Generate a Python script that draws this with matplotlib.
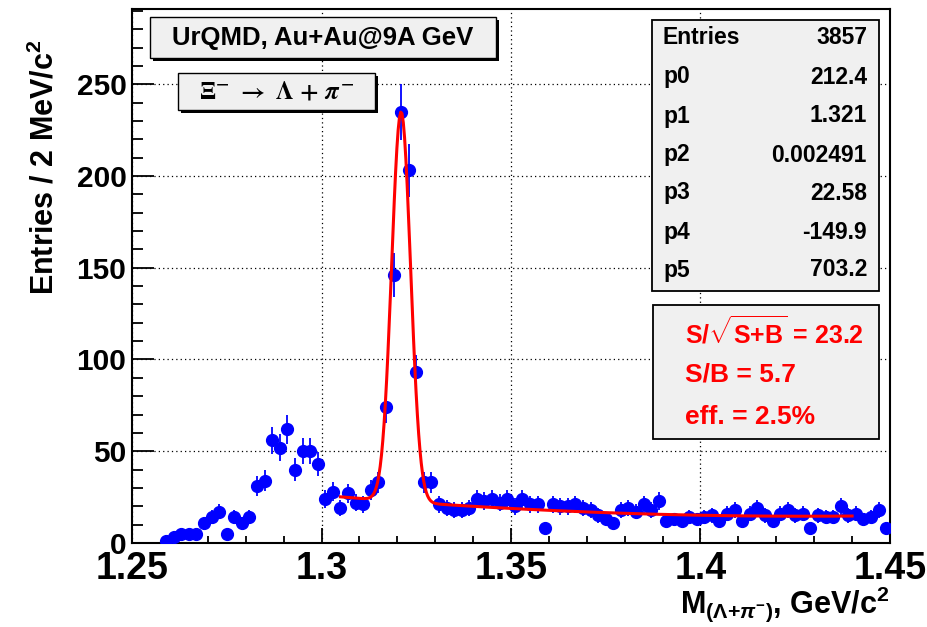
import numpy as np
import matplotlib
matplotlib.use('Agg')
import matplotlib.pyplot as plt
from matplotlib.patches import Rectangle
from matplotlib.ticker import MultipleLocator

plt.rcParams['font.family'] = ['Liberation Sans', 'DejaVu Sans']
plt.rcParams['font.weight'] = 'bold'
plt.rcParams['mathtext.fontset'] = 'custom'
plt.rcParams['mathtext.rm'] = 'Liberation Sans:bold'
plt.rcParams['mathtext.bf'] = 'Liberation Sans:bold'
plt.rcParams['mathtext.it'] = 'Liberation Sans:italic:bold'

# histogram: 2 MeV bins from 1.25 GeV, first filled bin is #4
bin_low = 1.25
bin_width = 0.002
first_bin = 4
counts = [1, 3, 5, 5, 5, 11, 14, 17, 5, 14, 11, 14, 31, 34, 56, 52, 62, 40, 50, 50,
          43, 24, 28, 19, 27, 22, 21, 29, 33, 74, 146, 235, 203, 93, 33, 33, 21, 19, 18, 18,
          19, 24, 23, 24, 22, 24, 20, 24, 21, 21, 8, 21, 20, 20, 21, 19, 18, 15, 13, 11,
          18, 19, 17, 21, 18, 23, 12, 13, 12, 14, 13, 14, 15, 12, 16, 18, 12, 16, 19, 15,
          12, 16, 18, 15, 16, 8, 15, 14, 14, 20, 15, 16, 13, 14, 18, 8]

# fit: gaus(p0,p1,p2) + pol2 in (m - p1)
par_names = ['p0', 'p1', 'p2', 'p3', 'p4', 'p5']
par_values = [212.4, 1.321, 0.002491, 22.58, -149.9, 703.2]
par_labels = ['212.4', '1.321', '0.002491', '22.58', '-149.9', '703.2']
fit_range = (1.305, 1.44)
entries = '3857'

xticks = [1.25, 1.3, 1.35, 1.4, 1.45]
xtick_labels = ['1.25', '1.3', '1.35', '1.4', '1.45']
yticks = [0, 50, 100, 150, 200, 250]
ytick_labels = ['0', '50', '100', '150', '200', '250']

W, H = 927, 627


def fx(px):
    return px / W


def fy(py):
    return 1 - py / H


fig = plt.figure(figsize=(W / 100, H / 100), dpi=100)
ax = fig.add_axes([fx(132), fy(543), (890 - 132) / W, (543 - 9) / H])

counts = np.array(counts, dtype=float)
centers = bin_low + bin_width * (np.arange(len(counts)) + first_bin + 0.5)
ax.errorbar(centers, counts, yerr=np.sqrt(counts), fmt='o', color='#0000ff',
            ms=8.5, elinewidth=1.3, capsize=0, zorder=3)

p0, p1, p2, p3, p4, p5 = par_values
m = np.linspace(fit_range[0], fit_range[1], 400)
fit = p0 * np.exp(-0.5 * ((m - p1) / p2) ** 2) + p3 + p4 * (m - p1) + p5 * (m - p1) ** 2
ax.plot(m, fit, color='red', lw=2.2, zorder=4)

ax.set_xlim(1.25, 1.45)
ax.set_ylim(0, 291)
ax.set_xticks(xticks)
ax.set_xticklabels(xtick_labels)
ax.set_yticks(yticks)
ax.set_yticklabels(ytick_labels)
ax.xaxis.set_minor_locator(MultipleLocator(0.01))
ax.yaxis.set_minor_locator(MultipleLocator(10))
ax.tick_params(axis='x', which='major', direction='in', length=11, width=1.3,
               labelsize=27, pad=6)
ax.tick_params(axis='x', which='minor', direction='in', length=5, width=1.3)
ax.tick_params(axis='y', which='major', direction='in', length=16, width=1.3,
               labelsize=21.5, pad=4)
ax.tick_params(axis='y', which='minor', direction='in', length=8, width=1.3)
for s in ax.spines.values():
    s.set_linewidth(1.5)
ax.grid(True, which='major', color='black', linestyle=(0, (1, 2.5)), linewidth=0.9)
ax.set_axisbelow(True)

fig.text(fx(45), fy(167), 'Entries / 2 MeV/c$^{2}$', rotation=90,
         ha='center', va='center', fontsize=22)
fig.text(fx(890), fy(613), r'M$_{(\Lambda{+}\pi^{-})}$, GeV/c$^{2}$',
         ha='right', va='baseline', fontsize=22)


def box(x0, y0, x1, y1, shadow=False, lw=1.0):
    if shadow:
        fig.add_artist(Rectangle((fx(x0 + 3), fy(y1 + 3)), (x1 - x0) / W, (y1 - y0) / H,
                                 transform=fig.transFigure, facecolor='black',
                                 edgecolor='black', lw=0, zorder=5))
    fig.add_artist(Rectangle((fx(x0), fy(y1)), (x1 - x0) / W, (y1 - y0) / H,
                             transform=fig.transFigure, facecolor='#f0f0f0',
                             edgecolor='black', lw=lw, zorder=6))


box(150, 17, 496, 58, shadow=True)
fig.text(fx(323), fy(38), 'UrQMD, Au+Au@9A GeV', ha='center', va='center',
         fontsize=18.5, zorder=7)

box(178, 73, 375, 110, shadow=True)
fig.text(fx(277), fy(92), r'$\Xi^{-}\ \rightarrow\ \Lambda\ \mathbf{+}\ \pi^{-}$',
         ha='center', va='center', fontsize=18, math_fontfamily='stix',
         fontweight='normal', zorder=7)

box(652, 20, 879, 291, lw=1.3)
row_y = [38, 77, 116, 155, 193, 232, 270]
fig.text(fx(663), fy(row_y[0]), 'Entries', ha='left', va='center', fontsize=16.5, zorder=7)
fig.text(fx(867), fy(row_y[0]), entries, ha='right', va='center', fontsize=16.5, zorder=7)
for yy, name, lab in zip(row_y[1:], par_names, par_labels):
    fig.text(fx(663), fy(yy), name, ha='left', va='center', fontsize=16.5, zorder=7)
    fig.text(fx(867), fy(yy), lab, ha='right', va='center', fontsize=16.5, zorder=7)

box(653, 305, 879, 439, lw=1.3)
red_lines = [r'S/$\sqrt{\mathrm{S{+}B}}$ = 23.2', 'S/B = 5.7', 'eff. = 2.5%']
red_sizes = [18, 19, 19]
for yy, t, fs in zip([332, 374, 417], red_lines, red_sizes):
    fig.text(fx(685), fy(yy), t, ha='left', va='center', fontsize=fs,
             color='red', zorder=7)

fig.savefig('out.png', dpi=100)
